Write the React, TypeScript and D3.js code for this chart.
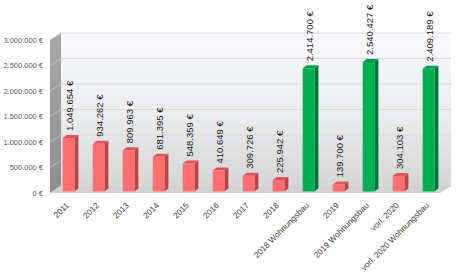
import React from "react";
import * as d3 from "d3";

const categories = [
  "2011", "2012", "2013", "2014", "2015", "2016", "2017", "2018",
  "2018 Wohnungsbau", "2019", "2019 Wohnungsbau", "vorl. 2020", "vorl. 2020 Wohnungsbau",
];
const values = [
  1049654, 934262, 809963, 681395, 548359, 410649, 309726, 225942,
  2414700, 139700, 2540427, 304103, 2409189,
];
const isWohnungsbau = [
  false, false, false, false, false, false, false, false,
  true, false, true, false, true,
];
const yTicks = [0, 500000, 1000000, 1500000, 2000000, 2500000, 3000000];

const fmt = (v: number) => d3.format(",")(v).replace(/,/g, ".") + " €";

export default function App() {
  const W = 458, H = 279;
  const frontX0 = 50, frontX1 = 440;
  const wallDX = 11, wallDY = -7;
  const frontBottom = 193, frontTop = 40;
  const barBottom = 191.5;
  const barDX = 4, barDY = -3;

  const yFront = d3.scaleLinear().domain([0, 3000000]).range([frontBottom, frontTop]);
  const yBack = d3.scaleLinear().domain([0, 3000000]).range([frontBottom + wallDY, frontTop + wallDY]);
  const yBar = d3.scaleLinear().domain([0, 3000000]).range([barBottom, barBottom - 153]);
  const xBand = d3.scaleBand<string>().domain(categories).range([frontX0, frontX1]).padding(0);
  const barOffset = 12.7;
  const barW = 11.7;

  const backL = frontX0 + wallDX, backR = frontX1 + wallDX;

  return (
    <svg width={W} height={H} style={{ position: "absolute", left: 0, top: 0, background: "#fff" }}
      fontFamily="'Liberation Sans', Arial, sans-serif">
      <defs>
        <linearGradient id="wallG" x1="0" y1="0" x2="0" y2="1">
          <stop offset="0" stopColor="#f7f9fc" />
          <stop offset="0.5" stopColor="#eceef0" />
          <stop offset="1" stopColor="#d5d5d5" />
        </linearGradient>
        <linearGradient id="sideG" x1="0" y1="0" x2="0" y2="1">
          <stop offset="0" stopColor="#a8a8a8" />
          <stop offset="1" stopColor="#8e8e8e" />
        </linearGradient>
      </defs>
      {/* back wall */}
      <rect x={backL} y={yBack(3000000)} width={backR - backL} height={yBack(0) - yBack(3000000)} fill="url(#wallG)" />
      {yTicks.map((t) => (
        <line key={"bg" + t} x1={backL} x2={backR} y1={yBack(t)} y2={yBack(t)} stroke="#d9d9d9" strokeWidth={1} />
      ))}
      {/* floor */}
      <polygon
        points={`${frontX0},${frontBottom} ${frontX1},${frontBottom} ${backR},${yBack(0)} ${backL},${yBack(0)}`}
        fill="#d2d2d2"
      />
      {/* left side wall */}
      <polygon
        points={`${frontX0},${frontBottom} ${frontX0},${frontTop} ${backL},${yBack(3000000)} ${backL},${yBack(0)}`}
        fill="url(#sideG)"
      />
      {yTicks.map((t) => (
        <line key={"sg" + t} x1={frontX0} x2={backL} y1={yFront(t)} y2={yBack(t)} stroke="#c8c8c8" strokeWidth={0.8} />
      ))}
      {/* y tick labels */}
      {yTicks.map((t) => (
        <text key={"yl" + t} x={43} y={yFront(t)} dy="0.35em" textAnchor="end" fontSize={7.5} fill="#595959">
          {fmt(t)}
        </text>
      ))}
      {/* bars */}
      {categories.map((c, i) => {
        const x = (xBand(c) as number) + barOffset;
        const yT = yBar(values[i]);
        const g = isWohnungsbau[i];
        const front = g ? "#00b050" : "#ff6f6f";
        const side = g ? "#00763a" : "#b84646";
        const top = g ? "#00a046" : "#e05555";
        return (
          <g key={c}>
            <polygon
              points={`${x + barW},${yT} ${x + barW + barDX},${yT + barDY} ${x + barW + barDX},${barBottom + barDY} ${x + barW},${barBottom}`}
              fill={side}
            />
            <polygon
              points={`${x},${yT} ${x + barDX},${yT + barDY} ${x + barW + barDX},${yT + barDY} ${x + barW},${yT}`}
              fill={top}
            />
            <rect x={x} y={yT} width={barW} height={barBottom - yT} fill={front} />
            <text
              transform={`translate(${x + barW / 2 + 1},${yT - 7}) rotate(-90)`}
              dy="0.35em"
              fontSize={9.5}
              fill="#1a1a1a"
            >
              {fmt(values[i])}
            </text>
            <text
              transform={`translate(${x + barW / 2 + 1},${206}) rotate(-45)`}
              textAnchor="end"
              fontSize={8.3}
              fill="#404040"
            >
              {c}
            </text>
          </g>
        );
      })}
    </svg>
  );
}
